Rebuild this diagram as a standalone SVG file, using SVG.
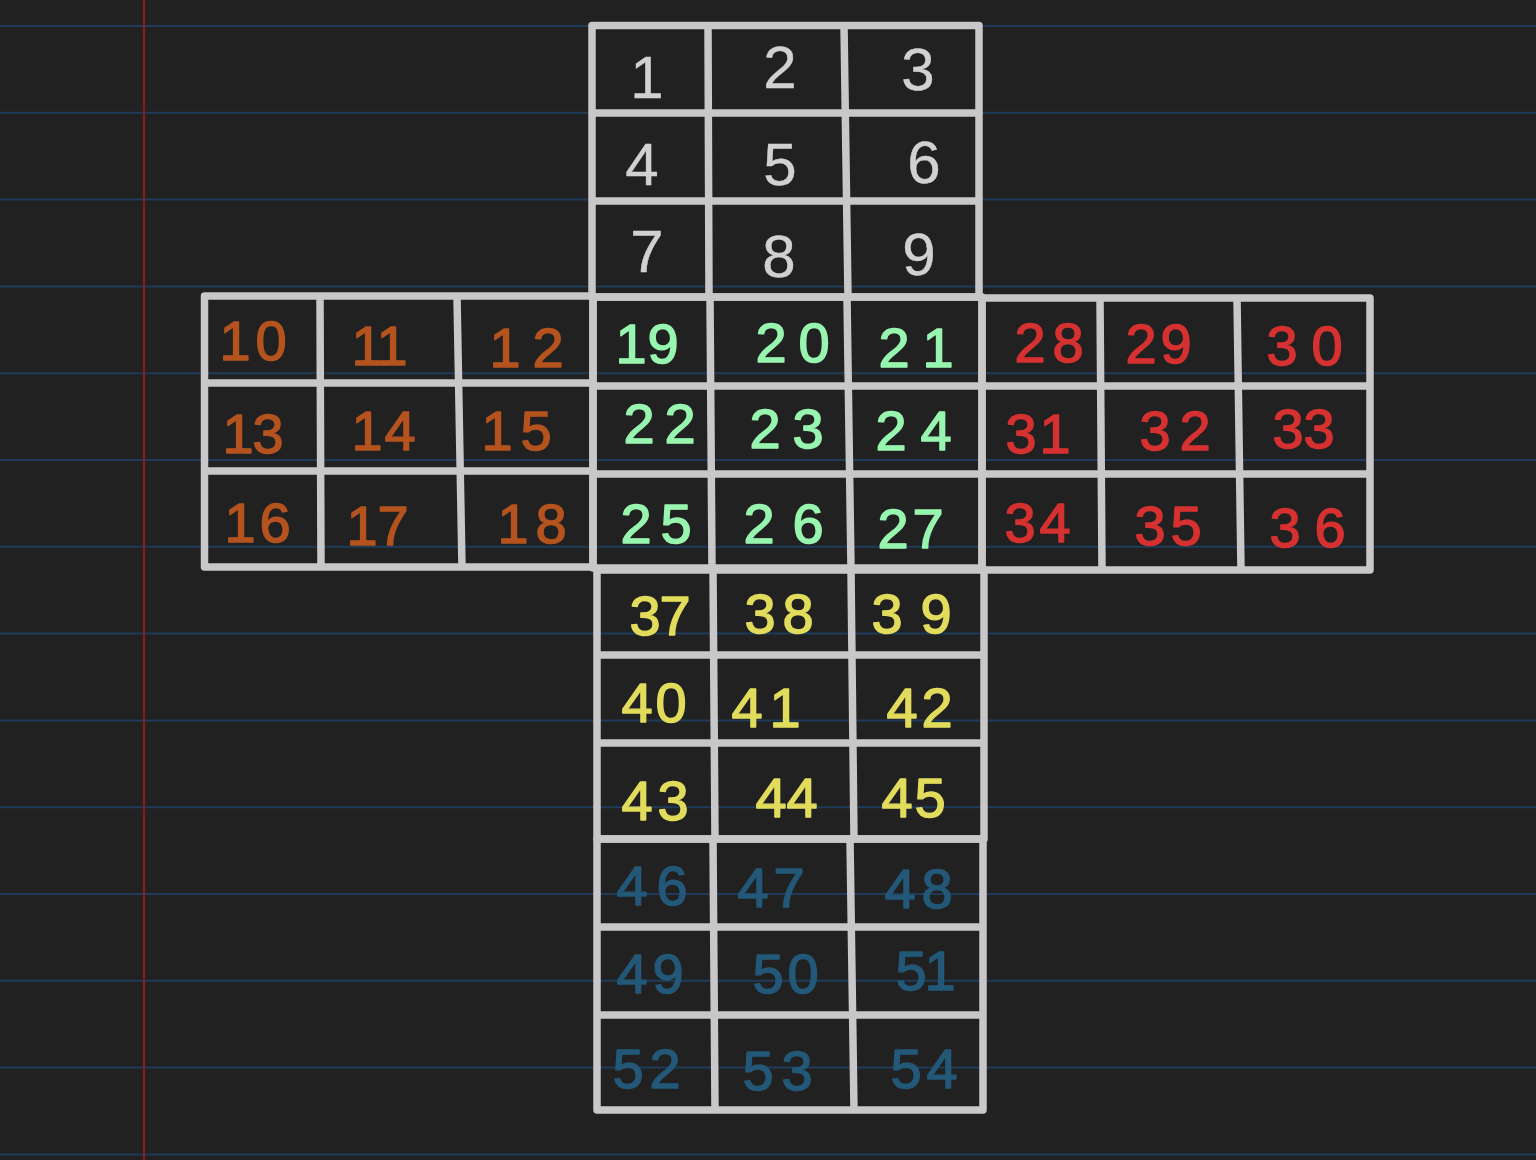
<svg xmlns="http://www.w3.org/2000/svg" width="1536" height="1160" viewBox="0 0 1536 1160">
<style>
.bg{fill:#212121}
.rule{stroke:#1e3c5a;stroke-width:2;fill:none}
.margin{stroke:#8e1b1b;stroke-width:2;fill:none}
.grid{stroke:#c9c8c8;stroke-width:7.5;fill:none;stroke-linecap:round;stroke-linejoin:round}
text{font-family:"Liberation Sans","DejaVu Sans",sans-serif;font-size:56px;text-anchor:middle;stroke-width:1.4;stroke-linejoin:round}
.w{fill:#d2d1d1;stroke:#d2d1d1;font-size:60px;stroke-width:0.4}
.o{fill:#b5531f;stroke:#b5531f}
.g{fill:#98f5b0;stroke:#98f5b0}
.r{fill:#d63131;stroke:#d63131}
.y{fill:#e2dc5c;stroke:#e2dc5c}
.b{fill:#235878;stroke:#235878}
</style>
<rect class="bg" x="0" y="0" width="1536" height="1160"/>
<g id="paper">
<path class="rule" d="M0 26H1536M0 112.8H1536M0 199.6H1536M0 286.4H1536M0 373.2H1536M0 460H1536M0 546.8H1536M0 633.6H1536M0 720.4H1536M0 807.2H1536M0 894H1536M0 980.8H1536M0 1067.6H1536M0 1154.4H1536"/>
<path class="margin" d="M144 0V1160"/>
</g>
<g id="connectors">
<path id="grid-U" class="grid" d="M592 25.5H979V297H592ZM708 25.5L709 297M844 25.5L848 297M592 113H979M592 201H979"/>
<path id="grid-L" class="grid" d="M204.5 296H593V567H204.5ZM320 296L321 567M457 296L462 567M204.5 383H593M204.5 471H593"/>
<path id="grid-F" class="grid" d="M593 297H982V568H593ZM710 297L712 568M847 297L851 568M593 386H982M593 474H982"/>
<path id="grid-R" class="grid" d="M982 298H1370V570H982ZM1100 298L1102 570M1237 298L1241 570M982 386H1370M982 474H1370"/>
<path id="grid-D" class="grid" d="M597 570H984V839H597ZM713 570L715 839M851 570L854 839M597 655H984M597 743H984"/>
<path id="grid-B" class="grid" d="M597 839H983V1110H597ZM713 839L715 1110M850 839L854 1110M597 927H983M597 1015H983"/>
</g>
<g id="face-U">
<g id="c1"><text class="w" x="647" y="98">1</text></g>
<g id="c2"><text class="w" x="780" y="88">2</text></g>
<g id="c3"><text class="w" x="918" y="90">3</text></g>
<g id="c4"><text class="w" x="642" y="185">4</text></g>
<g id="c5"><text class="w" x="780" y="185">5</text></g>
<g id="c6"><text class="w" x="924" y="183">6</text></g>
<g id="c7"><text class="w" x="647" y="272">7</text></g>
<g id="c8"><text class="w" x="779" y="277">8</text></g>
<g id="c9"><text class="w" x="919" y="275">9</text></g>
</g>
<g id="face-L">
<g id="c10"><text class="o" x="235 271" y="360">10</text></g>
<g id="c11"><text class="o" x="367 392" y="365">11</text></g>
<g id="c12"><text class="o" x="505 548" y="367">12</text></g>
<g id="c13"><text class="o" x="238 268" y="453">13</text></g>
<g id="c14"><text class="o" x="367 400" y="450">14</text></g>
<g id="c15"><text class="o" x="497 536" y="450">15</text></g>
<g id="c16"><text class="o" x="240 275" y="542">16</text></g>
<g id="c17"><text class="o" x="362 393" y="545">17</text></g>
<g id="c18"><text class="o" x="513 551" y="543">18</text></g>
</g>
<g id="face-F">
<g id="c19"><text class="g" x="631 663" y="363">19</text></g>
<g id="c20"><text class="g" x="771 814" y="362">20</text></g>
<g id="c21"><text class="g" x="894 938" y="367">21</text></g>
<g id="c22"><text class="g" x="639 680" y="443">22</text></g>
<g id="c23"><text class="g" x="765 808" y="448">23</text></g>
<g id="c24"><text class="g" x="891 936" y="450">24</text></g>
<g id="c25"><text class="g" x="636 676" y="543">25</text></g>
<g id="c26"><text class="g" x="759 808" y="543">26</text></g>
<g id="c27"><text class="g" x="893 928" y="548">27</text></g>
</g>
<g id="face-R">
<g id="c28"><text class="r" x="1030 1068" y="362">28</text></g>
<g id="c29"><text class="r" x="1141 1176" y="363">29</text></g>
<g id="c30"><text class="r" x="1282 1327" y="365">30</text></g>
<g id="c31"><text class="r" x="1021 1055" y="453">31</text></g>
<g id="c32"><text class="r" x="1155 1195" y="450">32</text></g>
<g id="c33"><text class="r" x="1288 1319" y="448">33</text></g>
<g id="c34"><text class="r" x="1020 1055" y="542">34</text></g>
<g id="c35"><text class="r" x="1150 1186" y="545">35</text></g>
<g id="c36"><text class="r" x="1285 1330" y="547">36</text></g>
</g>
<g id="face-D">
<g id="c37"><text class="y" x="645 675" y="635">37</text></g>
<g id="c38"><text class="y" x="760 798" y="633">38</text></g>
<g id="c39"><text class="y" x="887 936" y="633">39</text></g>
<g id="c40"><text class="y" x="637 671" y="722">40</text></g>
<g id="c41"><text class="y" x="747 785" y="727">41</text></g>
<g id="c42"><text class="y" x="902 937" y="727">42</text></g>
<g id="c43"><text class="y" x="637 673" y="820">43</text></g>
<g id="c44"><text class="y" x="771 802" y="817">44</text></g>
<g id="c45"><text class="y" x="897 930" y="817">45</text></g>
</g>
<g id="face-B">
<g id="c46"><text class="b" x="632 672" y="905">46</text></g>
<g id="c47"><text class="b" x="753 789" y="907">47</text></g>
<g id="c48"><text class="b" x="900 937" y="908">48</text></g>
<g id="c49"><text class="b" x="632 668" y="993">49</text></g>
<g id="c50"><text class="b" x="768 803" y="993">50</text></g>
<g id="c51"><text class="b" x="911 940" y="990">51</text></g>
<g id="c52"><text class="b" x="628 665" y="1088">52</text></g>
<g id="c53"><text class="b" x="758 797" y="1090">53</text></g>
<g id="c54"><text class="b" x="906 942" y="1088">54</text></g>
</g>
</svg>
